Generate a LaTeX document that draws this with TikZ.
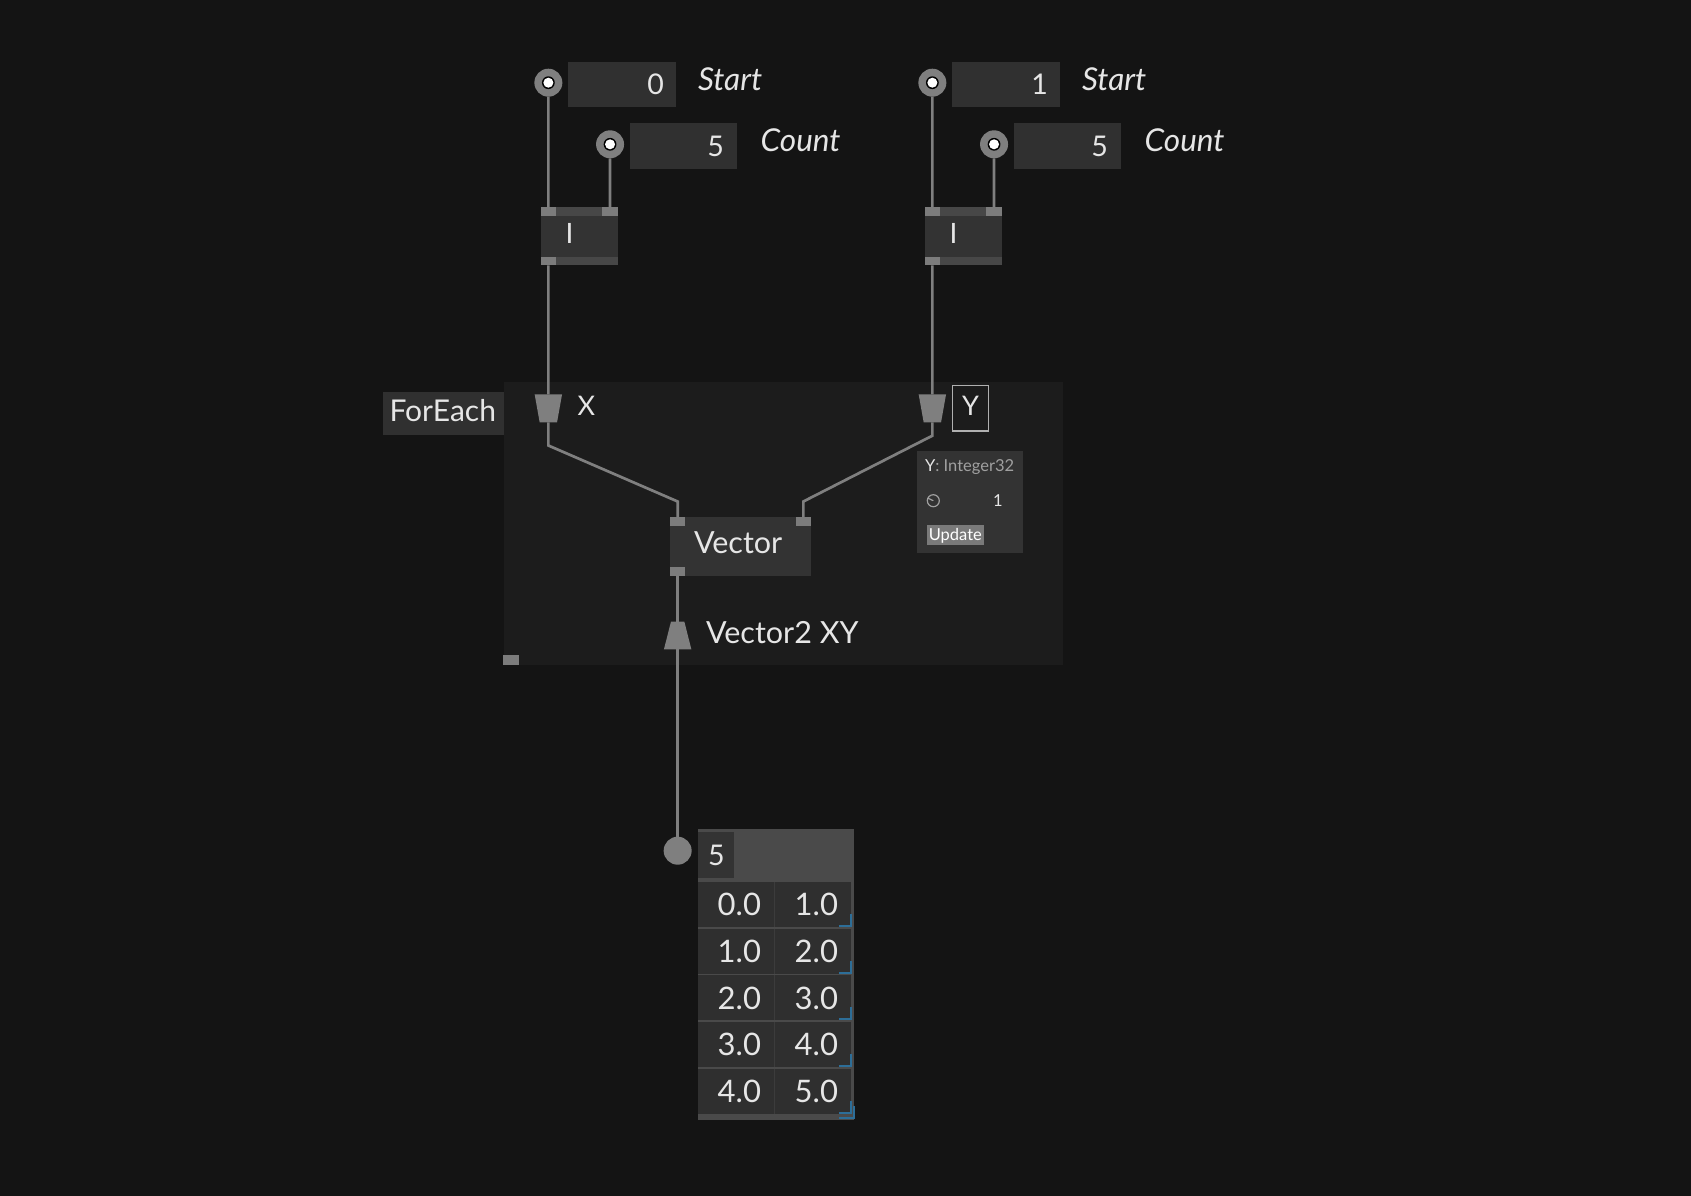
\documentclass[tikz,border=0pt]{standalone}
\usepackage{fontspec}
\setmainfont{Lato}
\definecolor{bgcol}{HTML}{141414}
\definecolor{regioncol}{HTML}{1C1C1C}
\definecolor{boxcol}{HTML}{303030}
\definecolor{bodycol}{HTML}{333333}
\definecolor{stripcol}{HTML}{474747}
\definecolor{portcol}{HTML}{7C7C7C}
\definecolor{wirecol}{HTML}{7F7F7F}
\definecolor{textcol}{HTML}{E6E6E6}
\definecolor{tipgray}{HTML}{A0A0A0}
\definecolor{btncol}{HTML}{7A7A7A}
\definecolor{tableout}{HTML}{4A4A4A}
\definecolor{cellcol}{HTML}{2F2F2F}
\definecolor{colsep}{HTML}{3C3C3C}
\definecolor{bluecol}{HTML}{2D6E98}
\definecolor{ylabelcol}{HTML}{B0B0B0}
\begin{document}
\begin{tikzpicture}[x=1pt,y=-1pt,
  every node/.style={inner sep=0pt, outer sep=0pt, text=textcol},
  wh/.style 2 args={minimum width=#1pt, minimum height=#2pt},
  fs/.style={font=\fontsize{#1}{#1}\selectfont},
  fsi/.style={font=\fontsize{#1}{#1}\selectfont\itshape},
  boxnw/.style={rectangle, anchor=north west},
  valbox/.style={boxnw, fill=boxcol, wh={107.2}{45.4}},
  source/.style={circle, fill=wirecol, minimum size=28pt,
    path picture={\fill[black] (path picture bounding box.center) circle (6.4pt);
                  \fill[white] (path picture bounding box.center) circle (5pt);}},
  sink/.style={circle, fill=wirecol, minimum size=28pt},
  portbox/.style={boxnw, fill=portcol, wh={15.3}{8.7}},
  opbody/.style={boxnw, fill=bodycol},
  funneldown/.style={rectangle, wh={27.4}{28},
    path picture={\fill[wirecol] (path picture bounding box.north west)
      -- (path picture bounding box.north east)
      -- ([xshift=-5pt]path picture bounding box.south east)
      -- ([xshift=5pt]path picture bounding box.south west) -- cycle;}},
  funnelup/.style={rectangle, wh={27.4}{27.6},
    path picture={\fill[wirecol] ([xshift=7pt]path picture bounding box.north west)
      -- ([xshift=-7pt]path picture bounding box.north east)
      -- (path picture bounding box.south east)
      -- (path picture bounding box.south west) -- cycle;}},
  wire/.style={draw=wirecol, line width=2.7pt},
  cell/.style={boxnw, fill=cellcol, wh={76.3}{45}},
  celltext/.style={anchor=east, fs=31}
]
\useasboundingbox (0,0) rectangle (1691,1196);
\fill[bgcol] (0,0) rectangle (1691,1196);

% ForEach region and its label
\node[boxnw, wh={558.7}{282.7}, fill=regioncol] (region) at (504,382.3) {};
\node[boxnw, wh={120.7}{43.3}, fill=boxcol] (feLabel) at (383.3,391.7) {};
\node[anchor=base west, fs=30] (feText) at (389.5,421.7) {ForEach};
\node[boxnw, wh={16}{10}, fill=portcol] (regPort) at (503.3,655) {};

% ---- left integer range: Start 0, Count 5 ----
\node[source] (s1) at (548.35,82.7) {};
\node[valbox] (s1box) at (568.3,61.7) {};
\node[anchor=base east, fs=28.5] (s1val) at (664,95) {0};
\node[anchor=base west, fsi=31.5] (s1lab) at (698,90.7) {Start};
\node[source] (c1) at (610.05,144.3) {};
\node[valbox] (c1box) at (630,123.3) {};
\node[anchor=base east, fs=28.5] (c1val) at (724,156) {5};
\node[anchor=base west, fsi=31.5] (c1lab) at (760.7,151.7) {Count};

\node[opbody, wh={77}{58}] (i1) at (540.7,207.3) {};
\fill[stripcol] (i1.north west) rectangle ([yshift=-8.7pt]i1.north east);
\fill[stripcol] (i1.south west) rectangle ([yshift=8.7pt]i1.south east);
\node[portbox] (i1a) at (540.7,207.3) {};
\node[portbox] (i1b) at (602.4,207.3) {};
\node[portbox] (i1o) at (540.7,256.6) {};
\node[anchor=base west, fs=28] (i1t) at (565.5,243.3) {I};

% ---- right integer range: Start 1, Count 5 ----
\node[source] (s2) at (932.35,82.7) {};
\node[valbox] (s2box) at (952.3,61.7) {};
\node[anchor=base east, fs=28.5] (s2val) at (1048,95) {1};
\node[anchor=base west, fsi=31.5] (s2lab) at (1082,90.7) {Start};
\node[source] (c2) at (994.05,144.3) {};
\node[valbox] (c2box) at (1014,123.3) {};
\node[anchor=base east, fs=28.5] (c2val) at (1108,156) {5};
\node[anchor=base west, fsi=31.5] (c2lab) at (1144.7,151.7) {Count};

\node[opbody, wh={77}{58}] (i2) at (924.7,207.3) {};
\fill[stripcol] (i2.north west) rectangle ([yshift=-8.7pt]i2.north east);
\fill[stripcol] (i2.south west) rectangle ([yshift=8.7pt]i2.south east);
\node[portbox] (i2a) at (924.7,207.3) {};
\node[portbox] (i2b) at (986.4,207.3) {};
\node[portbox] (i2o) at (924.7,256.6) {};
\node[anchor=base west, fs=28] (i2t) at (949.5,243.3) {I};

% ---- loop inputs X and Y ----
\node[funneldown] (fx) at (548.35,408.3) {};
\node[anchor=base west, fs=27] (xlab) at (577.5,415.7) {X};
\node[funneldown] (fy) at (932.35,408.3) {};
\node[boxnw, wh={36.4}{45.3}, draw=ylabelcol, line width=1.4pt] (ybox) at (952.3,385.7) {};
\node[anchor=base, fs=27] (ylab) at (970.5,415.7) {Y};

% tooltip of Y
\node[boxnw, wh={106}{101.7}, fill=bodycol] (tip) at (917,451) {};
\node[anchor=base west, fs=16.5] (tipTitle) at (925,471.7) {Y\textcolor{tipgray}{: Integer32}};
\node[circle, draw=tipgray, line width=1.2pt, minimum size=12pt] (tipDial) at (933.3,500.7) {};
\draw[tipgray, line width=1.2pt] (tipDial.center) -- (tipDial.155);
\node[anchor=base west, fs=16.5] (tipVal) at (993,506.7) {1};
\node[boxnw, wh={57.3}{20}, fill=btncol] (tipBtn) at (926.7,525.3) {};
\node[anchor=base, fs=16.5, text=white] (tipBtnText) at (955.3,540.5) {Update};

% ---- Vector node ----
\node[opbody, wh={141}{58.4}] (v) at (670,517.3) {};
\node[portbox] (va) at (670,517.3) {};
\node[portbox] (vb) at (795.7,517.3) {};
\node[portbox] (vo) at (670,566.9) {};
\node[anchor=base west, fs=30.5] (vt) at (694,553.3) {Vector};

% loop output
\node[funnelup] (fxy) at (677.65,635.5) {};
\node[anchor=base west, fs=30.5] (xylab) at (706,643.3) {Vector2 XY};

% ---- result table ----
\node[sink] (out) at (677.65,850.7) {};
\node[boxnw, wh={156}{291}, fill=tableout] (tbl) at (697.7,829) {};
\node[boxnw, wh={36.3}{45.4}, fill=bodycol] (cnt) at (697.7,832.3) {};
\node[anchor=base west, fs=28.5] (cntText) at (708,865) {5};
\foreach \r/\a/\b in {0/0.0/1.0, 1/1.0/2.0, 2/2.0/3.0, 3/3.0/4.0, 4/4.0/5.0} {
  \node[cell] (cellA\r) at (697.7,882+46.7*\r) {};
  \node[cell, minimum width=76pt] (cellB\r) at (775,882+46.7*\r) {};
  \draw[colsep, line width=1pt] (cellA\r.north east) ++(0.5,0) -- ++(0,45);
  \node[celltext] (txtA\r) at ([xshift=-13pt]cellA\r.east) {\a};
  \node[celltext] (txtB\r) at ([xshift=-13pt]cellB\r.east) {\b};
  \draw[bluecol, line width=2pt] ([xshift=-12pt,yshift=1pt]cellB\r.south east) -- ([yshift=1pt]cellB\r.south east) -- ([yshift=13pt]cellB\r.south east);
}
\draw[bluecol, line width=2.5pt] ([xshift=-12pt,yshift=-4pt]cellB4.south east) -- ([xshift=3pt,yshift=-4pt]cellB4.south east) -- ([xshift=3pt,yshift=8pt]cellB4.south east);

% ---- wires ----
\draw[wire] (s1.south) -- (i1a.north);
\draw[wire] (c1.south) -- (i1b.north);
\draw[wire] (s2.south) -- (i2a.north);
\draw[wire] (c2.south) -- (i2b.north);
\draw[wire] (i1o.south) -- (fx.north);
\draw[wire] (i2o.south) -- (fy.north);
\coordinate (bx) at (548.35,445.5);
\coordinate (bxa) at (677.65,501.5);
\coordinate (by) at (932.35,435.7);
\coordinate (bya) at (803.35,501.5);
\draw[wire, line join=miter] (fx.south) -- (bx) -- (bxa) -- (va.north);
\draw[wire, line join=miter] (fy.south) -- (by) -- (bya) -- (vb.north);
\draw[wire] (vo.south) -- (fxy.north);
\draw[wire] (fxy.south) -- (out.north);
\end{tikzpicture}
\end{document}
